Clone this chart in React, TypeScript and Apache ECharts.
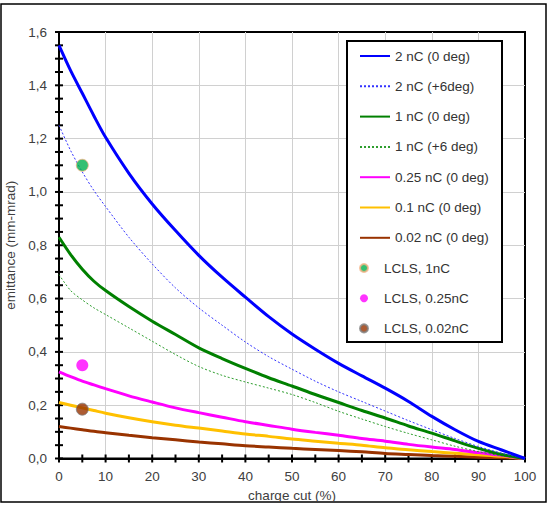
import React, { useEffect, useRef } from 'react';
import * as echarts from 'echarts';

const chargeCut = [0, 2.5, 5, 7.5, 10, 15, 20, 25, 30, 35, 40, 45, 50, 55, 60, 65, 70, 75, 80, 85, 90, 95, 100];
const q2nc0 = [1.55, 1.455, 1.37, 1.285, 1.205, 1.07, 0.955, 0.855, 0.762, 0.68, 0.605, 0.532, 0.467, 0.41, 0.357, 0.31, 0.264, 0.214, 0.158, 0.108, 0.064, 0.032, 0];
const q2nc6 = [1.25, 1.155, 1.075, 1.005, 0.945, 0.83, 0.73, 0.64, 0.565, 0.5, 0.437, 0.382, 0.335, 0.29, 0.25, 0.214, 0.178, 0.142, 0.108, 0.075, 0.045, 0.02, 0];
const q1nc0 = [0.83, 0.765, 0.71, 0.665, 0.63, 0.57, 0.515, 0.465, 0.415, 0.375, 0.338, 0.303, 0.272, 0.24, 0.21, 0.18, 0.152, 0.122, 0.095, 0.066, 0.038, 0.015, 0];
const q1nc6 = [0.69, 0.63, 0.595, 0.565, 0.54, 0.49, 0.44, 0.39, 0.345, 0.312, 0.287, 0.264, 0.24, 0.21, 0.177, 0.148, 0.12, 0.094, 0.07, 0.046, 0.026, 0.01, 0];
const q025nc0 = [0.325, 0.307, 0.29, 0.276, 0.262, 0.235, 0.212, 0.19, 0.172, 0.155, 0.138, 0.124, 0.11, 0.098, 0.087, 0.075, 0.065, 0.053, 0.043, 0.034, 0.022, 0.012, 0];
const q01nc0 = [0.21, 0.2, 0.19, 0.18, 0.17, 0.153, 0.138, 0.125, 0.114, 0.103, 0.092, 0.083, 0.073, 0.065, 0.057, 0.05, 0.04, 0.033, 0.026, 0.02, 0.014, 0.008, 0];
const q002nc0 = [0.12, 0.114, 0.108, 0.102, 0.097, 0.087, 0.078, 0.07, 0.062, 0.055, 0.048, 0.043, 0.038, 0.034, 0.03, 0.025, 0.019, 0.015, 0.011, 0.008, 0.005, 0.003, 0];

const lclsCut = [5, 5, 5];
const lclsValues = [1.1, 0.35, 0.185];
const lclsNames = ['LCLS, 1nC', 'LCLS, 0.25nC', 'LCLS, 0.02nC'];

const lineNames = ['2 nC (0 deg)', '2 nC (+6deg)', '1 nC (0 deg)', '1 nC (+6 deg)', '0.25 nC (0 deg)', '0.1 nC (0 deg)', '0.02 nC (0 deg)'];

// tick positions (major + minor) on each axis
const xTickValues = [0, 5, 10, 15, 20, 25, 30, 35, 40, 45, 50, 55, 60, 65, 70, 75, 80, 85, 90, 95, 100];
const yTickValues = [0, 0.05, 0.1, 0.15, 0.2, 0.25, 0.3, 0.35, 0.4, 0.45, 0.5, 0.55, 0.6, 0.65, 0.7, 0.75, 0.8, 0.85, 0.9, 0.95, 1.0, 1.05, 1.1, 1.15, 1.2, 1.25, 1.3, 1.35, 1.4, 1.45, 1.5, 1.55, 1.6];

const FONT = '"Liberation Sans", Arial, sans-serif';
const TXT = '#404040';

export default function App() {
  const ref = useRef<HTMLDivElement>(null);
  useEffect(() => {
    if (!ref.current) return;
    const chart = echarts.init(ref.current, null, { renderer: 'svg' });
    const pair = (ys: number[]) => chargeCut.map((x, i) => [x, ys[i]]);
    const lineDefs = [
      { data: q2nc0, color: '#0000FF', width: 3, dash: false },
      { data: q2nc6, color: '#3333FF', width: 1, dash: true },
      { data: q1nc0, color: '#008000', width: 3, dash: false },
      { data: q1nc6, color: '#2E9E2E', width: 1, dash: true },
      { data: q025nc0, color: '#FF00FF', width: 3, dash: false },
      { data: q01nc0, color: '#FFC000', width: 3, dash: false },
      { data: q002nc0, color: '#993300', width: 3, dash: false },
    ];
    const scatterStyles = [
      { color: '#00B050', borderColor: '#F4B183', borderWidth: 1 },
      { color: '#FF00FF', borderColor: '#FF00FF', borderWidth: 0 },
      { color: '#993300', borderColor: '#808080', borderWidth: 1 },
    ];
    const series: any[] = lineDefs.map((d, i) => ({
      name: lineNames[i],
      type: 'line',
      data: pair(d.data),
      symbol: 'none',
      smooth: 0.3,
      z: 2 + (6 - i) * 0.01,
      lineStyle: { color: d.color, width: d.width, type: d.dash ? [2, 2] : 'solid' },
      itemStyle: { color: d.color },
    }));
    lclsNames.forEach((n, i) => {
      series.push({
        name: n,
        type: 'scatter',
        symbolSize: 12,
        z: 5,
        data: [[lclsCut[i], lclsValues[i]]],
        itemStyle: scatterStyles[i],
      });
    });
    // crossing tick marks, positioned through the axes' scales
    const tickData = [
      ...xTickValues.map((v) => [v, 0, 0]),
      ...yTickValues.map((v) => [0, v, 1]),
    ];
    series.push({
      type: 'custom',
      clip: false,
      data: tickData,
      renderItem: (params: any, api: any) => {
        const pt = api.coord([api.value(0), api.value(1)]);
        const isY = api.value(2) === 1;
        const L = 4;
        return {
          type: 'line',
          shape: isY
            ? { x1: pt[0] - L, y1: pt[1], x2: pt[0] + L, y2: pt[1] }
            : { x1: pt[0], y1: pt[1] - L, x2: pt[0], y2: pt[1] + L },
          style: { stroke: '#000', lineWidth: 2 },
        };
      },
    });
    chart.setOption({
      animation: false,
      backgroundColor: '#fff',
      grid: { left: 59, right: 23, top: 32, bottom: 46.5, outerBoundsMode: 'none', show: true, borderColor: '#000', borderWidth: 2 },
      xAxis: {
        type: 'value', min: 0, max: 100, interval: 10, position: 'bottom',
        name: 'charge cut (%)', nameLocation: 'middle', nameGap: 27,
        nameTextStyle: { fontFamily: FONT, fontSize: 13.5, color: TXT },
        axisLine: { show: true, onZero: false, lineStyle: { color: '#000', width: 2 } },
        axisTick: { show: false },
        splitLine: { show: true, showMaxLine: false, lineStyle: { color: '#D0D0D0', width: 1 } },
        axisLabel: { fontFamily: FONT, fontSize: 13.5, color: TXT, margin: 11 },
      },
      yAxis: {
        type: 'value', min: 0, max: 1.6, interval: 0.2, position: 'left',
        name: 'emittance (mm-mrad)', nameLocation: 'middle', nameGap: 38,
        nameTextStyle: { fontFamily: FONT, fontSize: 13.5, color: TXT },
        axisLine: { show: true, onZero: false, lineStyle: { color: '#000', width: 2 } },
        axisTick: { show: false },
        splitLine: { show: true, showMaxLine: false, lineStyle: { color: '#D0D0D0', width: 1 } },
        axisLabel: {
          fontFamily: FONT, fontSize: 13.5, color: TXT, margin: 12,
          formatter: (v: number) => v.toFixed(1).replace('.', ','),
        },
      },
      legend: [
        {
          data: lineNames,
          orient: 'vertical', left: 359, top: 49, padding: 0,
          itemWidth: 30, itemHeight: 14, itemGap: 16.3,
          itemStyle: { opacity: 0, color: 'transparent', borderWidth: 0 },
          textStyle: { fontFamily: FONT, fontSize: 13.5, color: '#333', lineHeight: 14 },
          z: 6,
        },
        {
          data: lclsNames,
          orient: 'vertical', left: 359, top: 261, padding: 0,
          itemWidth: 30, itemHeight: 8, itemGap: 16.2,
          textStyle: { fontFamily: FONT, fontSize: 13.5, color: '#333', lineHeight: 14 },
          z: 6,
        },
      ],
      graphic: [
        { type: 'rect', z: 0, shape: { x: 1, y: 4, width: 545, height: 498 }, style: { fill: 'none', stroke: '#000', lineWidth: 1.5 } },
        { type: 'rect', z: 5, shape: { x: 347, y: 41, width: 155, height: 301 }, style: { fill: '#fff', stroke: '#000', lineWidth: 2 } },
      ],
      series,
    });
    return () => chart.dispose();
  }, []);
  return <div ref={ref} style={{ position: 'fixed', left: 0, top: 0, width: 548, height: 505 }} />;
}
